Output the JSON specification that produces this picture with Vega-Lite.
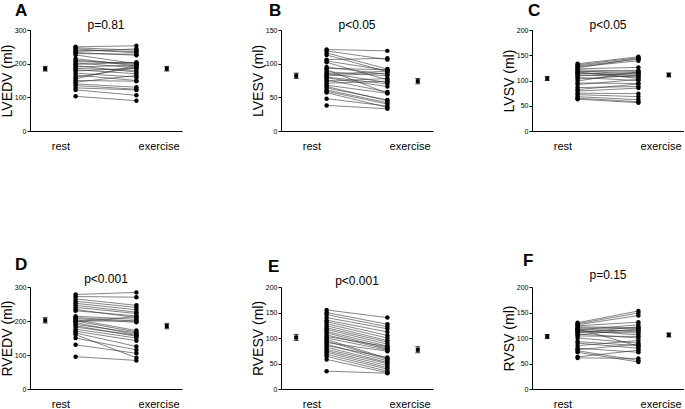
{
"$schema": "https://vega.github.io/schema/vega-lite/v6.json",
"padding": {"left": 0, "top": 2, "right": 0, "bottom": 0},
"background": "white",
"config": {
  "font": "Liberation Sans",
  "view": {"stroke": null},
  "title": {"fontSize": 17, "fontWeight": "bold", "anchor": "start", "frame": "group", "color": "black", "offset": -1},
  "axis": {"domainColor": "black", "tickColor": "black", "grid": false, "labelColor": "black", "titleColor": "black", "domainWidth": 1},
  "axisY": {"tickSize": 3, "labelFontSize": 7, "labelPadding": 1, "labelOverlap": false, "titleFontSize": 14, "titleFontWeight": "normal", "titlePadding": 0},
  "axisX": {"ticks": false, "labelFontSize": 11, "labelPadding": 9, "labelAngle": 0}
},
"datasets": {
  "pts": [
    {"p":"A","id":1,"rest":250,"exercise":253},{"p":"A","id":2,"rest":247,"exercise":240},{"p":"A","id":3,"rest":244,"exercise":232},{"p":"A","id":4,"rest":240,"exercise":236},{"p":"A","id":5,"rest":236,"exercise":244},{"p":"A","id":6,"rest":233,"exercise":225},{"p":"A","id":7,"rest":230,"exercise":228},{"p":"A","id":8,"rest":226,"exercise":200},{"p":"A","id":9,"rest":215,"exercise":193},{"p":"A","id":10,"rest":210,"exercise":198},{"p":"A","id":11,"rest":206,"exercise":202},{"p":"A","id":12,"rest":202,"exercise":188},{"p":"A","id":13,"rest":198,"exercise":204},{"p":"A","id":14,"rest":194,"exercise":175},{"p":"A","id":15,"rest":190,"exercise":196},{"p":"A","id":16,"rest":186,"exercise":180},{"p":"A","id":17,"rest":182,"exercise":170},{"p":"A","id":18,"rest":178,"exercise":187},{"p":"A","id":19,"rest":172,"exercise":160},{"p":"A","id":20,"rest":166,"exercise":150},{"p":"A","id":21,"rest":160,"exercise":188},{"p":"A","id":22,"rest":155,"exercise":195},{"p":"A","id":23,"rest":150,"exercise":148},{"p":"A","id":24,"rest":145,"exercise":165},{"p":"A","id":25,"rest":140,"exercise":130},{"p":"A","id":26,"rest":135,"exercise":124},{"p":"A","id":27,"rest":128,"exercise":122},{"p":"A","id":28,"rest":122,"exercise":106},{"p":"A","id":29,"rest":103,"exercise":90},
    {"p":"B","id":1,"rest":121,"exercise":119},{"p":"B","id":2,"rest":119,"exercise":106},{"p":"B","id":3,"rest":116,"exercise":92},{"p":"B","id":4,"rest":113,"exercise":88},{"p":"B","id":5,"rest":106,"exercise":108},{"p":"B","id":6,"rest":104,"exercise":90},{"p":"B","id":7,"rest":102,"exercise":76},{"p":"B","id":8,"rest":95,"exercise":84},{"p":"B","id":9,"rest":93,"exercise":91},{"p":"B","id":10,"rest":91,"exercise":56},{"p":"B","id":11,"rest":88,"exercise":82},{"p":"B","id":12,"rest":86,"exercise":72},{"p":"B","id":13,"rest":84,"exercise":89},{"p":"B","id":14,"rest":82,"exercise":86},{"p":"B","id":15,"rest":80,"exercise":70},{"p":"B","id":16,"rest":79,"exercise":66},{"p":"B","id":17,"rest":76,"exercise":58},{"p":"B","id":18,"rest":74,"exercise":78},{"p":"B","id":19,"rest":71,"exercise":74},{"p":"B","id":20,"rest":68,"exercise":56},{"p":"B","id":21,"rest":66,"exercise":45},{"p":"B","id":22,"rest":64,"exercise":46},{"p":"B","id":23,"rest":61,"exercise":42},{"p":"B","id":24,"rest":59,"exercise":40},{"p":"B","id":25,"rest":57,"exercise":35},{"p":"B","id":26,"rest":48,"exercise":37},{"p":"B","id":27,"rest":38,"exercise":33},
    {"p":"C","id":1,"rest":133,"exercise":147},{"p":"C","id":2,"rest":131,"exercise":145},{"p":"C","id":3,"rest":129,"exercise":142},{"p":"C","id":4,"rest":127,"exercise":139},{"p":"C","id":5,"rest":125,"exercise":144},{"p":"C","id":6,"rest":123,"exercise":126},{"p":"C","id":7,"rest":121,"exercise":118},{"p":"C","id":8,"rest":119,"exercise":112},{"p":"C","id":9,"rest":117,"exercise":120},{"p":"C","id":10,"rest":115,"exercise":109},{"p":"C","id":11,"rest":113,"exercise":116},{"p":"C","id":12,"rest":111,"exercise":107},{"p":"C","id":13,"rest":109,"exercise":114},{"p":"C","id":14,"rest":106,"exercise":100},{"p":"C","id":15,"rest":103,"exercise":110},{"p":"C","id":16,"rest":99,"exercise":117},{"p":"C","id":17,"rest":95,"exercise":94},{"p":"C","id":18,"rest":92,"exercise":102},{"p":"C","id":19,"rest":86,"exercise":88},{"p":"C","id":20,"rest":82,"exercise":93},{"p":"C","id":21,"rest":79,"exercise":85},{"p":"C","id":22,"rest":75,"exercise":74},{"p":"C","id":23,"rest":72,"exercise":68},{"p":"C","id":24,"rest":68,"exercise":62},{"p":"C","id":25,"rest":65,"exercise":58},{"p":"C","id":26,"rest":63,"exercise":56},{"p":"C","id":27,"rest":117,"exercise":104},
    {"p":"D","id":1,"rest":278,"exercise":284},{"p":"D","id":2,"rest":272,"exercise":270},{"p":"D","id":3,"rest":265,"exercise":246},{"p":"D","id":4,"rest":258,"exercise":240},{"p":"D","id":5,"rest":252,"exercise":233},{"p":"D","id":6,"rest":246,"exercise":226},{"p":"D","id":7,"rest":240,"exercise":222},{"p":"D","id":8,"rest":234,"exercise":210},{"p":"D","id":9,"rest":230,"exercise":215},{"p":"D","id":10,"rest":214,"exercise":205},{"p":"D","id":11,"rest":210,"exercise":200},{"p":"D","id":12,"rest":207,"exercise":196},{"p":"D","id":13,"rest":204,"exercise":172},{"p":"D","id":14,"rest":200,"exercise":168},{"p":"D","id":15,"rest":198,"exercise":213},{"p":"D","id":16,"rest":195,"exercise":160},{"p":"D","id":17,"rest":190,"exercise":165},{"p":"D","id":18,"rest":186,"exercise":155},{"p":"D","id":19,"rest":182,"exercise":158},{"p":"D","id":20,"rest":176,"exercise":150},{"p":"D","id":21,"rest":170,"exercise":142},{"p":"D","id":22,"rest":165,"exercise":125},{"p":"D","id":23,"rest":160,"exercise":92},{"p":"D","id":24,"rest":150,"exercise":115},{"p":"D","id":25,"rest":130,"exercise":105},{"p":"D","id":26,"rest":95,"exercise":84},{"p":"D","id":27,"rest":200,"exercise":200},
    {"p":"E","id":1,"rest":155,"exercise":140},{"p":"E","id":2,"rest":150,"exercise":127},{"p":"E","id":3,"rest":146,"exercise":122},{"p":"E","id":4,"rest":140,"exercise":118},{"p":"E","id":5,"rest":135,"exercise":112},{"p":"E","id":6,"rest":132,"exercise":105},{"p":"E","id":7,"rest":128,"exercise":100},{"p":"E","id":8,"rest":124,"exercise":95},{"p":"E","id":9,"rest":120,"exercise":92},{"p":"E","id":10,"rest":117,"exercise":88},{"p":"E","id":11,"rest":113,"exercise":84},{"p":"E","id":12,"rest":110,"exercise":80},{"p":"E","id":13,"rest":106,"exercise":78},{"p":"E","id":14,"rest":103,"exercise":83},{"p":"E","id":15,"rest":100,"exercise":76},{"p":"E","id":16,"rest":97,"exercise":60},{"p":"E","id":17,"rest":94,"exercise":58},{"p":"E","id":18,"rest":91,"exercise":74},{"p":"E","id":19,"rest":88,"exercise":55},{"p":"E","id":20,"rest":85,"exercise":62},{"p":"E","id":21,"rest":82,"exercise":52},{"p":"E","id":22,"rest":78,"exercise":50},{"p":"E","id":23,"rest":75,"exercise":46},{"p":"E","id":24,"rest":72,"exercise":42},{"p":"E","id":25,"rest":68,"exercise":39},{"p":"E","id":26,"rest":64,"exercise":35},{"p":"E","id":27,"rest":58,"exercise":32},{"p":"E","id":28,"rest":35,"exercise":31},
    {"p":"F","id":1,"rest":130,"exercise":153},{"p":"F","id":2,"rest":128,"exercise":149},{"p":"F","id":3,"rest":126,"exercise":144},{"p":"F","id":4,"rest":124,"exercise":131},{"p":"F","id":5,"rest":122,"exercise":120},{"p":"F","id":6,"rest":120,"exercise":118},{"p":"F","id":7,"rest":118,"exercise":112},{"p":"F","id":8,"rest":116,"exercise":126},{"p":"F","id":9,"rest":115,"exercise":106},{"p":"F","id":10,"rest":113,"exercise":115},{"p":"F","id":11,"rest":112,"exercise":110},{"p":"F","id":12,"rest":110,"exercise":122},{"p":"F","id":13,"rest":108,"exercise":100},{"p":"F","id":14,"rest":106,"exercise":118},{"p":"F","id":15,"rest":104,"exercise":103},{"p":"F","id":16,"rest":100,"exercise":90},{"p":"F","id":17,"rest":93,"exercise":85},{"p":"F","id":18,"rest":90,"exercise":80},{"p":"F","id":19,"rest":85,"exercise":95},{"p":"F","id":20,"rest":80,"exercise":72},{"p":"F","id":21,"rest":77,"exercise":88},{"p":"F","id":22,"rest":75,"exercise":56},{"p":"F","id":23,"rest":72,"exercise":53},{"p":"F","id":24,"rest":63,"exercise":76},{"p":"F","id":25,"rest":61,"exercise":60},{"p":"F","id":26,"rest":118,"exercise":84}
  ],
  "means": [
    {"p":"A","c":"mean_rest","m":185,"lo":178,"hi":192},{"p":"A","c":"mean_exercise","m":185,"lo":178,"hi":192},
    {"p":"B","c":"mean_rest","m":82,"lo":78,"hi":86},{"p":"B","c":"mean_exercise","m":74,"lo":70,"hi":78},
    {"p":"C","c":"mean_rest","m":104,"lo":100,"hi":108},{"p":"C","c":"mean_exercise","m":111,"lo":107,"hi":115},
    {"p":"D","c":"mean_rest","m":202,"lo":194,"hi":210},{"p":"D","c":"mean_exercise","m":185,"lo":177,"hi":193},
    {"p":"E","c":"mean_rest","m":101,"lo":95,"hi":107},{"p":"E","c":"mean_exercise","m":77,"lo":71,"hi":83},
    {"p":"F","c":"mean_rest","m":103,"lo":99,"hi":107},{"p":"F","c":"mean_exercise","m":106,"lo":102,"hi":110}
  ],
  "ann": [
    {"p":"A","t":"p=0.81"},{"p":"B","t":"p<0.05"},{"p":"C","t":"p<0.05"},
    {"p":"D","t":"p<0.001"},{"p":"E","t":"p<0.001"},{"p":"F","t":"p=0.15"}
  ]
},
"spacing": 257,
"bounds": "flush",
"vconcat": [
 {"hconcat": [
  {"width":152,"height":101,"title":{"text":"A","dx":-15},
   "encoding":{"x":{"field":"c","type":"ordinal","title":null,"scale":{"type":"point","domain":["mean_rest","l_rest","rest","g1","g2","g3","exercise","l_ex","mean_exercise"],"padding":1.527},"axis":{"values":["l_rest","l_ex"],"labelExpr":"datum.value=='l_rest'?'rest':'exercise'","labelOffset":{"condition":{"test":"datum.value=='l_ex'","value":7},"value":0}}}},
   "layer":[
    {"data":{"name":"pts"},"transform":[{"filter":"datum.p=='A'"},{"fold":["rest","exercise"],"as":["c","v"]}],"mark":{"type":"line","color":"#333","strokeWidth":0.6},"encoding":{"y":{"field":"v","type":"quantitative","title":"LVEDV (ml)","scale":{"domain":[0,300],"nice":false},"axis":{"values":[0,100,200,300]}},"detail":{"field":"id"}}},
    {"data":{"name":"pts"},"transform":[{"filter":"datum.p=='A'"},{"fold":["rest","exercise"],"as":["c","v"]}],"mark":{"type":"circle","color":"black","size":20,"opacity":1},"encoding":{"y":{"field":"v","type":"quantitative","title":"LVEDV (ml)","axis":{"values":[0,100,200,300]}}}},
    {"data":{"name":"means"},"transform":[{"filter":"datum.p=='A'"}],"mark":{"type":"rule","color":"black"},"encoding":{"y":{"field":"lo","type":"quantitative","title":"LVEDV (ml)","axis":{"values":[0,100,200,300]}},"y2":{"field":"hi"}}},
    {"data":{"name":"means"},"transform":[{"filter":"datum.p=='A'"}],"mark":{"type":"tick","color":"black","size":5,"thickness":1},"encoding":{"y":{"field":"lo","type":"quantitative","title":"LVEDV (ml)","axis":{"values":[0,100,200,300]}}}},
    {"data":{"name":"means"},"transform":[{"filter":"datum.p=='A'"}],"mark":{"type":"tick","color":"black","size":5,"thickness":1},"encoding":{"y":{"field":"hi","type":"quantitative","title":"LVEDV (ml)","axis":{"values":[0,100,200,300]}}}},
    {"data":{"name":"means"},"transform":[{"filter":"datum.p=='A'"}],"mark":{"type":"square","color":"black","size":16,"opacity":1},"encoding":{"y":{"field":"m","type":"quantitative","title":"LVEDV (ml)","axis":{"values":[0,100,200,300]}}}},
    {"data":{"name":"ann"},"transform":[{"filter":"datum.p=='A'"}],"mark":{"type":"text","fontSize":12,"baseline":"alphabetic","dy":-1,"color":"black"},"encoding":{"x":{"datum":"g2","type":"ordinal"},"y":{"datum":300,"type":"quantitative","title":"LVEDV (ml)","axis":{"values":[0,100,200,300]}},"text":{"field":"t"}}}
   ]},
  {"width":152,"height":101,"title":{"text":"B","dx":-12},
   "encoding":{"x":{"field":"c","type":"ordinal","title":null,"scale":{"type":"point","domain":["mean_rest","l_rest","rest","g1","g2","g3","exercise","l_ex","mean_exercise"],"padding":1.527},"axis":{"values":["l_rest","l_ex"],"labelExpr":"datum.value=='l_rest'?'rest':'exercise'","labelOffset":{"condition":{"test":"datum.value=='l_ex'","value":7},"value":0}}}},
   "layer":[
    {"data":{"name":"pts"},"transform":[{"filter":"datum.p=='B'"},{"fold":["rest","exercise"],"as":["c","v"]}],"mark":{"type":"line","color":"#333","strokeWidth":0.6},"encoding":{"y":{"field":"v","type":"quantitative","title":"LVESV (ml)","scale":{"domain":[0,150],"nice":false},"axis":{"values":[0,50,100,150]}},"detail":{"field":"id"}}},
    {"data":{"name":"pts"},"transform":[{"filter":"datum.p=='B'"},{"fold":["rest","exercise"],"as":["c","v"]}],"mark":{"type":"circle","color":"black","size":20,"opacity":1},"encoding":{"y":{"field":"v","type":"quantitative","title":"LVESV (ml)","axis":{"values":[0,50,100,150]}}}},
    {"data":{"name":"means"},"transform":[{"filter":"datum.p=='B'"}],"mark":{"type":"rule","color":"black"},"encoding":{"y":{"field":"lo","type":"quantitative","title":"LVESV (ml)","axis":{"values":[0,50,100,150]}},"y2":{"field":"hi"}}},
    {"data":{"name":"means"},"transform":[{"filter":"datum.p=='B'"}],"mark":{"type":"tick","color":"black","size":5,"thickness":1},"encoding":{"y":{"field":"lo","type":"quantitative","title":"LVESV (ml)","axis":{"values":[0,50,100,150]}}}},
    {"data":{"name":"means"},"transform":[{"filter":"datum.p=='B'"}],"mark":{"type":"tick","color":"black","size":5,"thickness":1},"encoding":{"y":{"field":"hi","type":"quantitative","title":"LVESV (ml)","axis":{"values":[0,50,100,150]}}}},
    {"data":{"name":"means"},"transform":[{"filter":"datum.p=='B'"}],"mark":{"type":"square","color":"black","size":16,"opacity":1},"encoding":{"y":{"field":"m","type":"quantitative","title":"LVESV (ml)","axis":{"values":[0,50,100,150]}}}},
    {"data":{"name":"ann"},"transform":[{"filter":"datum.p=='B'"}],"mark":{"type":"text","fontSize":12,"baseline":"alphabetic","dy":-1,"color":"black"},"encoding":{"x":{"datum":"g2","type":"ordinal"},"y":{"datum":150,"type":"quantitative","title":"LVESV (ml)","axis":{"values":[0,50,100,150]}},"text":{"field":"t"}}}
   ]},
  {"width":152,"height":101,"title":{"text":"C","dx":-4},
   "encoding":{"x":{"field":"c","type":"ordinal","title":null,"scale":{"type":"point","domain":["mean_rest","l_rest","rest","g1","g2","g3","exercise","l_ex","mean_exercise"],"padding":1.527},"axis":{"values":["l_rest","l_ex"],"labelExpr":"datum.value=='l_rest'?'rest':'exercise'","labelOffset":{"condition":{"test":"datum.value=='l_ex'","value":7},"value":0}}}},
   "layer":[
    {"data":{"name":"pts"},"transform":[{"filter":"datum.p=='C'"},{"fold":["rest","exercise"],"as":["c","v"]}],"mark":{"type":"line","color":"#333","strokeWidth":0.6},"encoding":{"y":{"field":"v","type":"quantitative","title":"LVSV (ml)","scale":{"domain":[0,200],"nice":false},"axis":{"values":[0,50,100,150,200]}},"detail":{"field":"id"}}},
    {"data":{"name":"pts"},"transform":[{"filter":"datum.p=='C'"},{"fold":["rest","exercise"],"as":["c","v"]}],"mark":{"type":"circle","color":"black","size":20,"opacity":1},"encoding":{"y":{"field":"v","type":"quantitative","title":"LVSV (ml)","axis":{"values":[0,50,100,150,200]}}}},
    {"data":{"name":"means"},"transform":[{"filter":"datum.p=='C'"}],"mark":{"type":"rule","color":"black"},"encoding":{"y":{"field":"lo","type":"quantitative","title":"LVSV (ml)","axis":{"values":[0,50,100,150,200]}},"y2":{"field":"hi"}}},
    {"data":{"name":"means"},"transform":[{"filter":"datum.p=='C'"}],"mark":{"type":"tick","color":"black","size":5,"thickness":1},"encoding":{"y":{"field":"lo","type":"quantitative","title":"LVSV (ml)","axis":{"values":[0,50,100,150,200]}}}},
    {"data":{"name":"means"},"transform":[{"filter":"datum.p=='C'"}],"mark":{"type":"tick","color":"black","size":5,"thickness":1},"encoding":{"y":{"field":"hi","type":"quantitative","title":"LVSV (ml)","axis":{"values":[0,50,100,150,200]}}}},
    {"data":{"name":"means"},"transform":[{"filter":"datum.p=='C'"}],"mark":{"type":"square","color":"black","size":16,"opacity":1},"encoding":{"y":{"field":"m","type":"quantitative","title":"LVSV (ml)","axis":{"values":[0,50,100,150,200]}}}},
    {"data":{"name":"ann"},"transform":[{"filter":"datum.p=='C'"}],"mark":{"type":"text","fontSize":12,"baseline":"alphabetic","dy":-1,"color":"black"},"encoding":{"x":{"datum":"g2","type":"ordinal"},"y":{"datum":200,"type":"quantitative","title":"LVSV (ml)","axis":{"values":[0,50,100,150,200]}},"text":{"field":"t"}}}
   ]}
 ], "spacing": 99, "bounds": "flush"},
 {"hconcat": [
  {"width":152,"height":102,"title":{"text":"D","dx":-15},
   "encoding":{"x":{"field":"c","type":"ordinal","title":null,"scale":{"type":"point","domain":["mean_rest","l_rest","rest","g1","g2","g3","exercise","l_ex","mean_exercise"],"padding":1.527},"axis":{"values":["l_rest","l_ex"],"labelExpr":"datum.value=='l_rest'?'rest':'exercise'","labelOffset":{"condition":{"test":"datum.value=='l_ex'","value":7},"value":0}}}},
   "layer":[
    {"data":{"name":"pts"},"transform":[{"filter":"datum.p=='D'"},{"fold":["rest","exercise"],"as":["c","v"]}],"mark":{"type":"line","color":"#333","strokeWidth":0.6},"encoding":{"y":{"field":"v","type":"quantitative","title":"RVEDV  (ml)","scale":{"domain":[0,300],"nice":false},"axis":{"values":[0,100,200,300]}},"detail":{"field":"id"}}},
    {"data":{"name":"pts"},"transform":[{"filter":"datum.p=='D'"},{"fold":["rest","exercise"],"as":["c","v"]}],"mark":{"type":"circle","color":"black","size":20,"opacity":1},"encoding":{"y":{"field":"v","type":"quantitative","title":"RVEDV  (ml)","axis":{"values":[0,100,200,300]}}}},
    {"data":{"name":"means"},"transform":[{"filter":"datum.p=='D'"}],"mark":{"type":"rule","color":"black"},"encoding":{"y":{"field":"lo","type":"quantitative","title":"RVEDV  (ml)","axis":{"values":[0,100,200,300]}},"y2":{"field":"hi"}}},
    {"data":{"name":"means"},"transform":[{"filter":"datum.p=='D'"}],"mark":{"type":"tick","color":"black","size":5,"thickness":1},"encoding":{"y":{"field":"lo","type":"quantitative","title":"RVEDV  (ml)","axis":{"values":[0,100,200,300]}}}},
    {"data":{"name":"means"},"transform":[{"filter":"datum.p=='D'"}],"mark":{"type":"tick","color":"black","size":5,"thickness":1},"encoding":{"y":{"field":"hi","type":"quantitative","title":"RVEDV  (ml)","axis":{"values":[0,100,200,300]}}}},
    {"data":{"name":"means"},"transform":[{"filter":"datum.p=='D'"}],"mark":{"type":"square","color":"black","size":16,"opacity":1},"encoding":{"y":{"field":"m","type":"quantitative","title":"RVEDV  (ml)","axis":{"values":[0,100,200,300]}}}},
    {"data":{"name":"ann"},"transform":[{"filter":"datum.p=='D'"}],"mark":{"type":"text","fontSize":12,"baseline":"alphabetic","dy":-4,"color":"black"},"encoding":{"x":{"datum":"g2","type":"ordinal"},"y":{"datum":300,"type":"quantitative","title":"RVEDV  (ml)","axis":{"values":[0,100,200,300]}},"text":{"field":"t"}}}
   ]},
  {"width":152,"height":102,"title":{"text":"E","dx":-13},
   "encoding":{"x":{"field":"c","type":"ordinal","title":null,"scale":{"type":"point","domain":["mean_rest","l_rest","rest","g1","g2","g3","exercise","l_ex","mean_exercise"],"padding":1.527},"axis":{"values":["l_rest","l_ex"],"labelExpr":"datum.value=='l_rest'?'rest':'exercise'","labelOffset":{"condition":{"test":"datum.value=='l_ex'","value":7},"value":0}}}},
   "layer":[
    {"data":{"name":"pts"},"transform":[{"filter":"datum.p=='E'"},{"fold":["rest","exercise"],"as":["c","v"]}],"mark":{"type":"line","color":"#333","strokeWidth":0.6},"encoding":{"y":{"field":"v","type":"quantitative","title":"RVESV (ml)","scale":{"domain":[0,200],"nice":false},"axis":{"values":[0,50,100,150,200]}},"detail":{"field":"id"}}},
    {"data":{"name":"pts"},"transform":[{"filter":"datum.p=='E'"},{"fold":["rest","exercise"],"as":["c","v"]}],"mark":{"type":"circle","color":"black","size":20,"opacity":1},"encoding":{"y":{"field":"v","type":"quantitative","title":"RVESV (ml)","axis":{"values":[0,50,100,150,200]}}}},
    {"data":{"name":"means"},"transform":[{"filter":"datum.p=='E'"}],"mark":{"type":"rule","color":"black"},"encoding":{"y":{"field":"lo","type":"quantitative","title":"RVESV (ml)","axis":{"values":[0,50,100,150,200]}},"y2":{"field":"hi"}}},
    {"data":{"name":"means"},"transform":[{"filter":"datum.p=='E'"}],"mark":{"type":"tick","color":"black","size":5,"thickness":1},"encoding":{"y":{"field":"lo","type":"quantitative","title":"RVESV (ml)","axis":{"values":[0,50,100,150,200]}}}},
    {"data":{"name":"means"},"transform":[{"filter":"datum.p=='E'"}],"mark":{"type":"tick","color":"black","size":5,"thickness":1},"encoding":{"y":{"field":"hi","type":"quantitative","title":"RVESV (ml)","axis":{"values":[0,50,100,150,200]}}}},
    {"data":{"name":"means"},"transform":[{"filter":"datum.p=='E'"}],"mark":{"type":"square","color":"black","size":16,"opacity":1},"encoding":{"y":{"field":"m","type":"quantitative","title":"RVESV (ml)","axis":{"values":[0,50,100,150,200]}}}},
    {"data":{"name":"ann"},"transform":[{"filter":"datum.p=='E'"}],"mark":{"type":"text","fontSize":12,"baseline":"alphabetic","dy":-2,"color":"black"},"encoding":{"x":{"datum":"g2","type":"ordinal"},"y":{"datum":200,"type":"quantitative","title":"RVESV (ml)","axis":{"values":[0,50,100,150,200]}},"text":{"field":"t"}}}
   ]},
  {"width":152,"height":102,"title":{"text":"F","dx":-9},
   "encoding":{"x":{"field":"c","type":"ordinal","title":null,"scale":{"type":"point","domain":["mean_rest","l_rest","rest","g1","g2","g3","exercise","l_ex","mean_exercise"],"padding":1.527},"axis":{"values":["l_rest","l_ex"],"labelExpr":"datum.value=='l_rest'?'rest':'exercise'","labelOffset":{"condition":{"test":"datum.value=='l_ex'","value":7},"value":0}}}},
   "layer":[
    {"data":{"name":"pts"},"transform":[{"filter":"datum.p=='F'"},{"fold":["rest","exercise"],"as":["c","v"]}],"mark":{"type":"line","color":"#333","strokeWidth":0.6},"encoding":{"y":{"field":"v","type":"quantitative","title":"RVSV (ml)","scale":{"domain":[0,200],"nice":false},"axis":{"values":[0,50,100,150,200]}},"detail":{"field":"id"}}},
    {"data":{"name":"pts"},"transform":[{"filter":"datum.p=='F'"},{"fold":["rest","exercise"],"as":["c","v"]}],"mark":{"type":"circle","color":"black","size":20,"opacity":1},"encoding":{"y":{"field":"v","type":"quantitative","title":"RVSV (ml)","axis":{"values":[0,50,100,150,200]}}}},
    {"data":{"name":"means"},"transform":[{"filter":"datum.p=='F'"}],"mark":{"type":"rule","color":"black"},"encoding":{"y":{"field":"lo","type":"quantitative","title":"RVSV (ml)","axis":{"values":[0,50,100,150,200]}},"y2":{"field":"hi"}}},
    {"data":{"name":"means"},"transform":[{"filter":"datum.p=='F'"}],"mark":{"type":"tick","color":"black","size":5,"thickness":1},"encoding":{"y":{"field":"lo","type":"quantitative","title":"RVSV (ml)","axis":{"values":[0,50,100,150,200]}}}},
    {"data":{"name":"means"},"transform":[{"filter":"datum.p=='F'"}],"mark":{"type":"tick","color":"black","size":5,"thickness":1},"encoding":{"y":{"field":"hi","type":"quantitative","title":"RVSV (ml)","axis":{"values":[0,50,100,150,200]}}}},
    {"data":{"name":"means"},"transform":[{"filter":"datum.p=='F'"}],"mark":{"type":"square","color":"black","size":16,"opacity":1},"encoding":{"y":{"field":"m","type":"quantitative","title":"RVSV (ml)","axis":{"values":[0,50,100,150,200]}}}},
    {"data":{"name":"ann"},"transform":[{"filter":"datum.p=='F'"}],"mark":{"type":"text","fontSize":12,"baseline":"alphabetic","dy":-8,"color":"black"},"encoding":{"x":{"datum":"g2","type":"ordinal"},"y":{"datum":200,"type":"quantitative","title":"RVSV (ml)","axis":{"values":[0,50,100,150,200]}},"text":{"field":"t"}}}
   ]}
 ], "spacing": 99, "bounds": "flush"}
]
}
